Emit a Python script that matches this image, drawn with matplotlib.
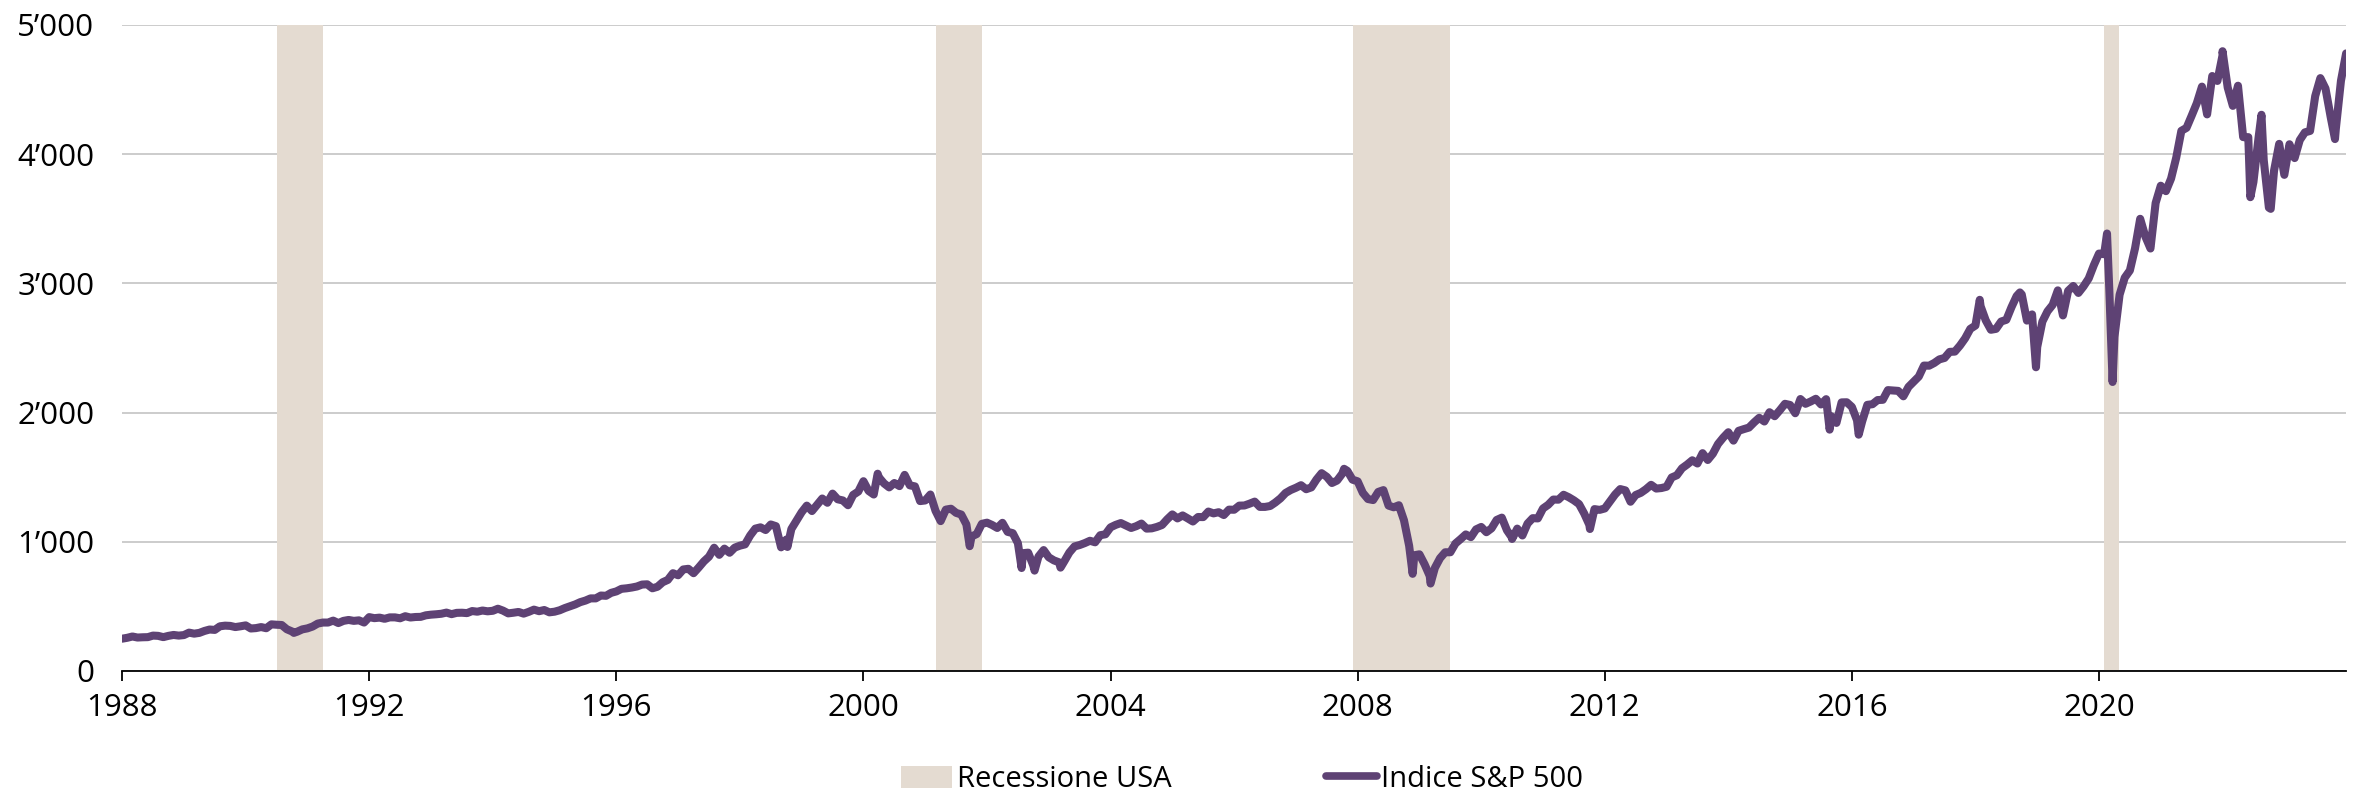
import numpy as np
import matplotlib
matplotlib.use("Agg")
import matplotlib.pyplot as plt
from matplotlib.patches import Patch
from matplotlib.lines import Line2D

# ── Data ──────────────────────────────────────────────────
start_year = 1988
start_value = 250

# S&P 500 month-end closes, Jan 1988 .. Dec 2023 (one row per year)
sp500_monthly = [
    257, 267, 259, 261, 262, 274, 272, 262, 272, 279, 274, 278,          # 1988
    297, 289, 295, 310, 321, 318, 346, 351, 349, 340, 346, 353,          # 1989
    329, 332, 340, 331, 361, 358, 356, 323, 306, 304, 322, 330,          # 1990
    344, 367, 375, 375, 390, 371, 388, 395, 388, 392, 375, 417,          # 1991
    409, 413, 404, 415, 415, 408, 424, 414, 418, 419, 431, 436,          # 1992
    439, 443, 452, 440, 450, 451, 448, 464, 459, 468, 462, 466,          # 1993
    482, 467, 446, 451, 457, 444, 458, 475, 463, 472, 454, 459,          # 1994
    470, 487, 501, 515, 533, 545, 562, 562, 584, 582, 605, 616,          # 1995
    636, 640, 646, 654, 669, 671, 640, 652, 687, 705, 757, 741,          # 1996
    786, 791, 757, 801, 848, 885, 954, 899, 947, 915, 955, 970,          # 1997
    980, 1049, 1102, 1112, 1091, 1134, 1121, 957, 1017, 1099, 1164, 1229,  # 1998
    1280, 1238, 1286, 1335, 1302, 1373, 1329, 1320, 1283, 1363, 1389, 1469,  # 1999
    1394, 1366, 1499, 1452, 1421, 1455, 1431, 1518, 1437, 1429, 1315, 1320,  # 2000
    1366, 1240, 1160, 1249, 1256, 1224, 1211, 1134, 1041, 1060, 1139, 1148,  # 2001
    1130, 1107, 1147, 1077, 1067, 990, 912, 916, 815, 886, 936, 880,      # 2002
    856, 841, 848, 917, 964, 975, 990, 1008, 996, 1051, 1058, 1112,       # 2003
    1131, 1145, 1126, 1107, 1121, 1141, 1102, 1104, 1115, 1130, 1174, 1212,  # 2004
    1181, 1204, 1181, 1157, 1192, 1191, 1234, 1220, 1229, 1207, 1249, 1248,  # 2005
    1280, 1281, 1295, 1311, 1270, 1270, 1277, 1304, 1336, 1378, 1401, 1418,  # 2006
    1438, 1407, 1421, 1482, 1531, 1503, 1455, 1474, 1527, 1549, 1481, 1468,  # 2007
    1379, 1331, 1323, 1386, 1400, 1280, 1267, 1283, 1166, 969, 896, 903,   # 2008
    826, 735, 798, 873, 919, 919, 987, 1021, 1057, 1036, 1096, 1115,      # 2009
    1074, 1104, 1169, 1187, 1089, 1031, 1102, 1049, 1141, 1183, 1181, 1258,  # 2010
    1286, 1327, 1326, 1364, 1345, 1321, 1292, 1219, 1131, 1253, 1247, 1258,  # 2011
    1312, 1366, 1408, 1398, 1310, 1362, 1379, 1407, 1441, 1412, 1416, 1426,  # 2012
    1498, 1515, 1569, 1598, 1631, 1606, 1686, 1633, 1682, 1757, 1806, 1848,  # 2013
    1783, 1859, 1872, 1884, 1924, 1960, 1931, 2003, 1972, 2018, 2068, 2059,  # 2014
    1995, 2105, 2068, 2086, 2107, 2063, 2104, 1972, 1920, 2079, 2080, 2044,  # 2015
    1940, 1932, 2060, 2065, 2097, 2099, 2174, 2171, 2168, 2126, 2199, 2239,  # 2016
    2279, 2364, 2363, 2384, 2412, 2423, 2470, 2472, 2519, 2575, 2648, 2674,  # 2017
    2824, 2714, 2641, 2648, 2705, 2718, 2816, 2902, 2914, 2712, 2760, 2507,  # 2018
    2704, 2784, 2834, 2946, 2752, 2942, 2980, 2926, 2977, 3038, 3141, 3231,  # 2019
    3226, 2954, 2585, 2912, 3044, 3100, 3271, 3500, 3363, 3270, 3622, 3756,  # 2020
    3714, 3811, 3973, 4181, 4204, 4298, 4395, 4523, 4308, 4605, 4567, 4766,  # 2021
    4516, 4374, 4530, 4132, 4132, 3785, 4130, 3955, 3586, 3872, 4080, 3840,  # 2022
    4077, 3970, 4109, 4169, 4180, 4450, 4589, 4508, 4288, 4194, 4568, 4780,  # 2023
]

# intra-month highs / lows visible in the chart (decimal year, level)
extreme_dates = [1990.78, 1998.77, 2000.23, 2001.72, 2002.56, 2002.77, 2003.19,
                 2007.78, 2008.89, 2009.18, 2010.50, 2011.76, 2015.64, 2016.11,
                 2018.07, 2018.72, 2018.98, 2020.13, 2020.22, 2022.00, 2022.45,
                 2022.63, 2022.78, 2023.82]
extreme_values = [295, 960, 1527, 966, 797, 777, 800,
                  1565, 752, 677, 1022, 1099, 1868, 1829,
                  2873, 2930, 2351, 3386, 2237, 4797, 3667,
                  4305, 3577, 4117]

# US recessions (NBER), as decimal years
recession_start = [1990.50, 2001.17, 2007.92, 2020.08]
recession_end = [1991.25, 2001.92, 2009.50, 2020.33]

y_ticks = [0, 1000, 2000, 3000, 4000, 5000]
x_ticks = list(range(1988, 2021, 4))

# ── Series ────────────────────────────────────────────────
month_x = start_year + (np.arange(len(sp500_monthly)) + 1) / 12.0
xs = np.concatenate([[start_year], month_x, extreme_dates])
ys = np.concatenate([[start_value], sp500_monthly, extreme_values])
order = np.argsort(xs, kind="stable")
xs, ys = xs[order], ys[order]

# ── Plot ──────────────────────────────────────────────────
LINE = "#5e4274"
BAND = "#e4dbd1"
plt.rcParams["font.family"] = ["Open Sans", "DejaVu Sans"]

fig = plt.figure(figsize=(23.71, 8.01), dpi=100)
ax = fig.add_axes([0.0515, 0.1623, 0.938, 0.8065])

for s, e in zip(recession_start, recession_end):
    ax.axvspan(s, e, color=BAND, lw=0, zorder=1)

ax.plot(xs, ys, color=LINE, lw=5.8, solid_capstyle="round",
        solid_joinstyle="round", zorder=3)

ax.set_xlim(1988, 2024)
ax.set_ylim(0, 5000)
ax.set_yticks(y_ticks)
ax.set_yticklabels([f"{v:,}".replace(",", "\u2019") for v in y_ticks])
ax.set_xticks(x_ticks)
ax.set_xticklabels([str(x) for x in x_ticks])

ax.grid(axis="y", color="#c8c8c8", lw=1.3, zorder=0)
ax.set_axisbelow(True)
for side in ("left", "right", "top"):
    ax.spines[side].set_visible(False)
ax.spines["bottom"].set_color("black")
ax.spines["bottom"].set_linewidth(1.3)
ax.spines["bottom"].set_zorder(4)

ax.tick_params(axis="y", length=0, pad=20, labelsize=22.5)
ax.tick_params(axis="x", length=7, width=1.3, pad=9, labelsize=22.5,
               direction="out")

handles = [Patch(facecolor=BAND, edgecolor="none"),
           Line2D([0], [0], color=LINE, lw=5.5, solid_capstyle="round")]
fig.legend(handles, ["Recessione USA", "Indice S&P 500"], ncol=2,
           loc="lower center", bbox_to_anchor=(0.524, -0.024), frameon=False,
           fontsize=21, handlelength=1.75, handleheight=0.8, handletextpad=0.15,
           columnspacing=5.3)

fig.savefig("out.png", dpi=100)
